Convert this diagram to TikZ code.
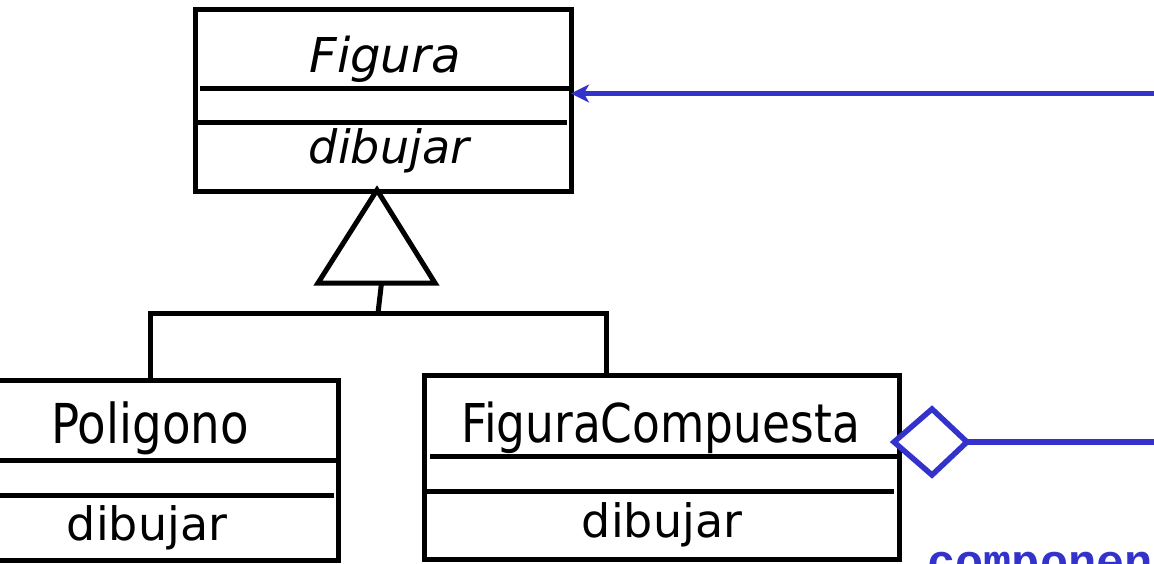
\documentclass[tikz,border=0pt]{standalone}
\usepackage{fontspec}
\setmainfont{DejaVu Sans}
\newfontfamily\namefont[FakeStretch=0.85]{DejaVu Sans}
\newfontfamily\codefont{Liberation Mono}
\usetikzlibrary{arrows.meta}
\definecolor{assoc}{HTML}{3333CC}

\begin{document}
\begin{tikzpicture}[x=1pt, y=-1pt,
  classbox/.style={draw, line width=5pt, inner sep=0pt, outer sep=0pt, anchor=north west},
  sep/.style={line width=5pt},
  label/.style={anchor=base, inner sep=0pt},
  gen/.style={line width=5pt, line join=miter},
  assocline/.style={draw=assoc, line width=5.5pt}]
\useasboundingbox (0,0) rectangle (1154,563);

% class boxes
\node[classbox, minimum width=376pt, minimum height=182pt] (fig) at (195,9) {};
\node[classbox, minimum width=348pt, minimum height=180pt] (poly) at (-10,380.5) {};
\node[classbox, minimum width=475pt, minimum height=184pt] (comp) at (424,375) {};

% compartment separators
\draw[sep] (200,88) -- (571,88);
\draw[sep] (195,122.5) -- (567,122.5);
\draw[sep] (-10,460) -- (337.5,460);
\draw[sep] (-10,495) -- (334,495);
\draw[sep] (430,456.5) -- (899,456.5);
\draw[sep] (424,491) -- (894,491);

% class names and operations
\node[label] (figname) at (385,72) {\fontsize{48}{50}\selectfont\itshape Figura};
\node[label] (figop) at (389,163) {\fontsize{46}{50}\selectfont\itshape dibujar};
\node[label] (polyname) at (150,443) {\namefont\fontsize{55}{60}\selectfont Poligono};
\node[label] (polyop) at (147,540) {\fontsize{46}{50}\selectfont dibujar};
\node[label] (compname) at (660.5,442) {\namefont\fontsize{53.5}{60}\selectfont FiguraCompuesta};
\node[label] (compop) at (662,537) {\fontsize{46}{50}\selectfont dibujar};

% generalization
\coordinate (apex) at (377,190);
\coordinate (baseL) at (318,283);
\coordinate (baseR) at (435,283);
\coordinate (stemtop) at (381.5,283);
\coordinate (stembot) at (378,313);
\coordinate (barL) at (150,313);
\coordinate (barR) at (606,313);
\draw[gen] (apex) -- (baseL) -- (baseR) -- cycle;
\draw[gen] (stemtop) -- (stembot);
\draw[gen, line cap=rect] (barL) -- (barR);
\draw[gen] (barL) -- (barL |- poly.north);
\draw[gen] (barR) -- (barR |- comp.north);

% association back to Figura
\coordinate (figend) at (1154,93.5);
\draw[assocline, -{Stealth[length=18pt, width=18pt, inset=5pt]}] (figend) -- (fig.east |- figend);

% aggregation diamond on FiguraCompuesta
\coordinate (dl) at (894,442);
\coordinate (dt) at (932,409);
\coordinate (dr) at (967,442);
\coordinate (db) at (932,475);
\coordinate (compend) at (1154,442);
\draw[assocline, fill=white, line join=miter] (dl) -- (dt) -- (dr) -- (db) -- cycle;
\draw[assocline] (dr) -- (compend);

% role name
\node[anchor=base west, inner sep=0pt, text=assoc] (role) at (927,577)
  {\codefont\bfseries\fontsize{47}{50}\selectfont componen};
\end{tikzpicture}
\end{document}
